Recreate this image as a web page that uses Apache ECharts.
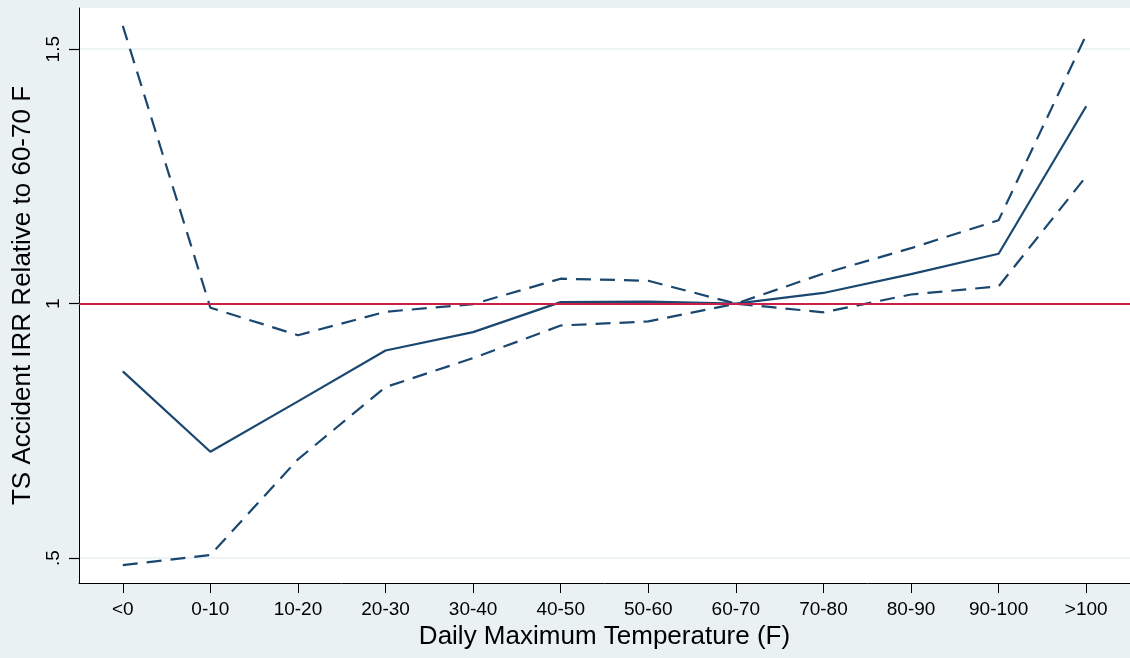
<!DOCTYPE html>
<html>
<head>
<meta charset="utf-8">
<script src="https://cdn.jsdelivr.net/npm/echarts@6/dist/echarts.min.js"></script>
<style>
html,body{margin:0;padding:0;background:#e9f1f3;}
#chart{width:1130px;height:658px;}
</style>
</head>
<body>
<div id="chart"></div>
<script>
const categories = ['<0','0-10','10-20','20-30','30-40','40-50','50-60','60-70','70-80','80-90','90-100','>100'];
const irr      = [0.867, 0.709, 0.808, 0.908, 0.944, 1.003, 1.004, 1.000, 1.021, 1.058, 1.098, 1.388];
const upperCI  = [1.546, 0.992, 0.938, 0.984, 0.999, 1.049, 1.045, 1.000, 1.059, 1.109, 1.164, 1.528];
const lowerCI  = [0.486, 0.506, 0.694, 0.836, 0.893, 0.957, 0.965, 1.000, 0.983, 1.018, 1.034, 1.250];
const yTickValues = [0.5, 1, 1.5];
const yTickLabels = ['.5', '1', '1.5'];
const referenceValue = 1;

const navy = '#1a476f';
const chart = echarts.init(document.getElementById('chart'));
const font = 'Liberation Sans, Arial, Helvetica, sans-serif';

chart.setOption({
  backgroundColor: '#e9f1f3',
  animation: false,
  grid: {
    left: 79, top: 8, right: -4, bottom: 75,
    show: true, backgroundColor: '#ffffff', borderWidth: 0
  },
  xAxis: {
    type: 'category',
    data: categories,
    boundaryGap: true,
    name: 'Daily Maximum Temperature (F)',
    nameLocation: 'middle',
    nameGap: 41,
    nameTextStyle: { fontFamily: font, fontSize: 26, color: '#000' },
    axisLine: { show: true, lineStyle: { color: '#000', width: 1 } },
    axisTick: { show: true, inside: false, alignWithLabel: true, interval: 0, length: 10, lineStyle: { color: '#000', width: 1 } },
    axisLabel: { fontFamily: font, fontSize: 19, color: '#000', margin: 17, interval: 0 },
    splitLine: { show: false }
  },
  yAxis: {
    type: 'value',
    min: 0.451,
    max: 1.581,
    splitNumber: 2,
    name: 'TS Accident IRR Relative to 60-70 F',
    nameLocation: 'middle',
    nameGap: 42,
    nameTextStyle: { fontFamily: font, fontSize: 26, color: '#000' },
    axisLine: { show: true, lineStyle: { color: '#000', width: 1 } },
    axisTick: { show: true, inside: false, length: 10, customValues: yTickValues, lineStyle: { color: '#000', width: 1.2 } },
    axisLabel: {
      fontFamily: font, fontSize: 19, color: '#000', rotate: 90, margin: 16,
      customValues: yTickValues,
      formatter: function (v) {
        const i = yTickValues.findIndex(t => Math.abs(t - v) < 1e-6);
        return i >= 0 ? yTickLabels[i] : '';
      }
    },
    splitLine: { show: true, lineStyle: { color: '#e9f1f3', width: 1.5 } }
  },
  series: [
    {
      type: 'line',
      data: [],
      z: 1,
      markLine: {
        silent: true,
        symbol: ['none', 'none'],
        label: { show: false },
        lineStyle: { color: '#cc1f47', width: 2, type: 'solid' },
        data: [{ yAxis: referenceValue }]
      }
    },
    {
      name: 'Upper', type: 'line', data: upperCI, symbol: 'none', z: 3,
      lineStyle: { color: navy, width: 2.2, type: [15, 9] }
    },
    {
      name: 'IRR', type: 'line', data: irr, symbol: 'none', z: 3,
      lineStyle: { color: navy, width: 2.2, type: 'solid' }
    },
    {
      name: 'Lower', type: 'line', data: lowerCI, symbol: 'none', z: 3,
      lineStyle: { color: navy, width: 2.2, type: [15, 9] }
    }
  ]
});
</script>
</body>
</html>
